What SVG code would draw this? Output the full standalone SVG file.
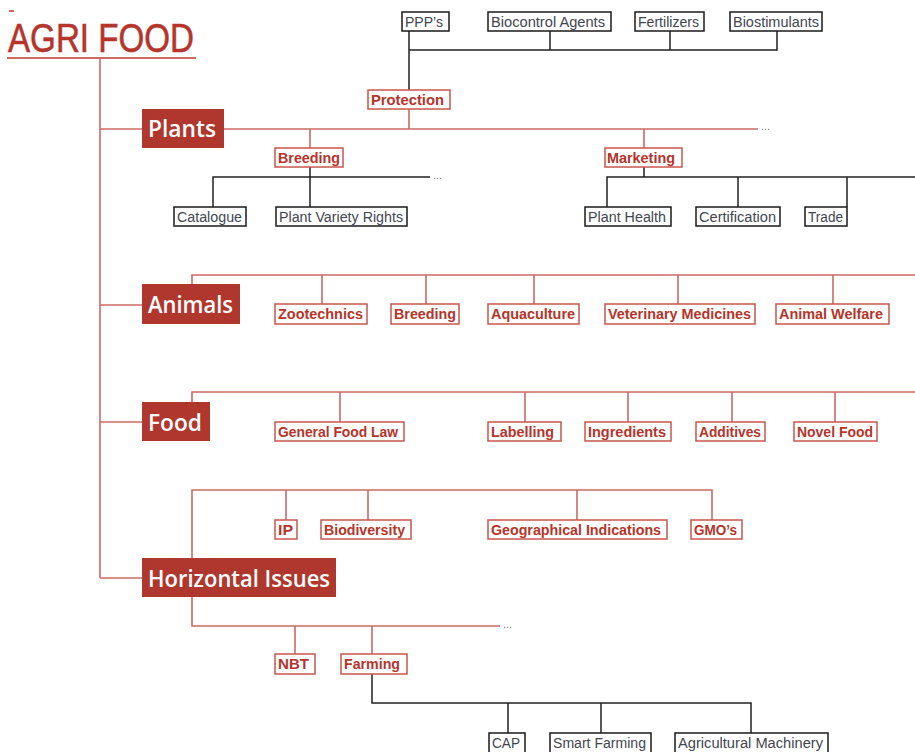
<svg xmlns="http://www.w3.org/2000/svg" width="915" height="752" viewBox="0 0 915 752">
<style>
.rl{fill:none;stroke:#cc6a63;stroke-width:1.6}
.bl{fill:none;stroke:#222;stroke-width:1.5}
.rb{fill:#fff;stroke:#c9564e;stroke-width:1.5}
.bb{fill:#fff;stroke:#1a1a1a;stroke-width:1.5}
.mb{fill:#b0372d;stroke:none}
.rt{font-family:"Liberation Sans",Arial,sans-serif;font-size:14px;font-weight:bold;fill:#b5342b}
.bt{font-family:"Liberation Sans",Arial,sans-serif;font-size:14px;fill:#3f4650}
.mt{font-family:"Open Sans","Liberation Sans",Arial,sans-serif;font-size:23px;font-weight:600;fill:#fff}
.dots{font-family:"Liberation Sans",Arial,sans-serif;font-size:11px;fill:#777}
</style>
<rect x="0" y="0" width="915" height="752" fill="#fff"/>
<g id="title">
<line x1="9" y1="11" x2="14" y2="11" stroke="#b5342b" stroke-width="1.5"/>
<text x="8" y="52" font-family="Liberation Sans,Arial,sans-serif" font-size="41" fill="#b5342b" stroke="#b5342b" stroke-width="0.6" textLength="186" lengthAdjust="spacingAndGlyphs">AGRI FOOD</text>
<line x1="7" y1="58" x2="196" y2="58" stroke="#cc6a63" stroke-width="1.8"/>
</g>
<g id="connectors">
<path class="rl" d="M100,58 V578 M100,129 H142 M100,305 H142 M100,422 H142 M100,578 H142"/>
<path class="rl" d="M224,129 H758 M409,109 V129 M310,129 V148 M644,129 V148"/>
<path class="rl" d="M192,284 V275 H915 M322,275 V304 M426,275 V304 M534,275 V304 M678,275 V304 M833,275 V304"/>
<path class="rl" d="M192,402 V392 H915 M340,392 V422 M525,392 V422 M628,392 V422 M732,392 V422 M835,392 V422"/>
<path class="rl" d="M192,558 V490 H712 V520 M286,490 V520 M368,490 V520 M577,490 V520"/>
<path class="rl" d="M192,597 V626 H500 M295,626 V654 M372,626 V654"/>
<path class="bl" d="M409,31 V90 M409,50 H777 V31 M550,50 V31 M670,50 V31"/>
<path class="bl" d="M310,167 V207 M213,207 V177 H430"/>
<path class="bl" d="M644,167 V177 M607,207 V177 H915 M738,177 V207 M847,177 V207"/>
<path class="bl" d="M372,674 V703 H751 V733 M508,703 V733 M601,703 V733"/>
<text class="dots" x="761" y="130">...</text>
<text class="dots" x="433" y="179">...</text>
<text class="dots" x="503" y="628">...</text>
</g>
<g id="plants"><rect class="mb" x="142" y="109" width="82" height="39"/><text class="mt" x="148" y="137" textLength="68" lengthAdjust="spacingAndGlyphs">Plants</text></g>
<g id="animals"><rect class="mb" x="142" y="284" width="98" height="40"/><text class="mt" x="148" y="313" textLength="85" lengthAdjust="spacingAndGlyphs">Animals</text></g>
<g id="food"><rect class="mb" x="142" y="402" width="68" height="39"/><text class="mt" x="148" y="431" textLength="54" lengthAdjust="spacingAndGlyphs">Food</text></g>
<g id="horizontal-issues"><rect class="mb" x="142" y="558" width="194" height="39"/><text class="mt" x="148" y="587" textLength="182" lengthAdjust="spacingAndGlyphs">Horizontal Issues</text></g>
<g id="ppps"><rect class="bb" x="402" y="12" width="47" height="19"/><text class="bt" x="405" y="26.5" textLength="38" lengthAdjust="spacingAndGlyphs">PPP’s</text></g>
<g id="biocontrol"><rect class="bb" x="488" y="12" width="123" height="19"/><text class="bt" x="491" y="26.5" textLength="114" lengthAdjust="spacingAndGlyphs">Biocontrol Agents</text></g>
<g id="fertilizers"><rect class="bb" x="635" y="12" width="69" height="19"/><text class="bt" x="638" y="26.5" textLength="61" lengthAdjust="spacingAndGlyphs">Fertilizers</text></g>
<g id="biostimulants"><rect class="bb" x="730" y="12" width="92" height="19"/><text class="bt" x="733" y="26.5" textLength="86" lengthAdjust="spacingAndGlyphs">Biostimulants</text></g>
<g id="protection"><rect class="rb" x="368" y="90" width="82" height="19"/><text class="rt" x="371" y="104.5" textLength="73" lengthAdjust="spacingAndGlyphs">Protection</text></g>
<g id="plant-breeding"><rect class="rb" x="275" y="148" width="68" height="19"/><text class="rt" x="278" y="162.5" textLength="62" lengthAdjust="spacingAndGlyphs">Breeding</text></g>
<g id="marketing"><rect class="rb" x="605" y="148" width="77" height="19"/><text class="rt" x="607" y="162.5" textLength="68" lengthAdjust="spacingAndGlyphs">Marketing</text></g>
<g id="catalogue"><rect class="bb" x="174" y="207" width="72" height="19"/><text class="bt" x="177" y="221.5" textLength="65" lengthAdjust="spacingAndGlyphs">Catalogue</text></g>
<g id="pvr"><rect class="bb" x="276" y="207" width="131" height="19"/><text class="bt" x="279" y="221.5" textLength="124" lengthAdjust="spacingAndGlyphs">Plant Variety Rights</text></g>
<g id="plant-health"><rect class="bb" x="585" y="207" width="86" height="19"/><text class="bt" x="588" y="221.5" textLength="78" lengthAdjust="spacingAndGlyphs">Plant Health</text></g>
<g id="certification"><rect class="bb" x="696" y="207" width="84" height="19"/><text class="bt" x="699" y="221.5" textLength="77" lengthAdjust="spacingAndGlyphs">Certification</text></g>
<g id="trade"><rect class="bb" x="805" y="207" width="42" height="19"/><text class="bt" x="808" y="221.5" textLength="35" lengthAdjust="spacingAndGlyphs">Trade</text></g>
<g id="zootechnics"><rect class="rb" x="275" y="304" width="92" height="20"/><text class="rt" x="278" y="319" textLength="85" lengthAdjust="spacingAndGlyphs">Zootechnics</text></g>
<g id="animal-breeding"><rect class="rb" x="391" y="304" width="68" height="20"/><text class="rt" x="394" y="319" textLength="62" lengthAdjust="spacingAndGlyphs">Breeding</text></g>
<g id="aquaculture"><rect class="rb" x="488" y="304" width="91" height="20"/><text class="rt" x="491" y="319" textLength="84" lengthAdjust="spacingAndGlyphs">Aquaculture</text></g>
<g id="vet-medicines"><rect class="rb" x="605" y="304" width="150" height="20"/><text class="rt" x="608" y="319" textLength="143" lengthAdjust="spacingAndGlyphs">Veterinary Medicines</text></g>
<g id="animal-welfare"><rect class="rb" x="776" y="304" width="113" height="20"/><text class="rt" x="779" y="319" textLength="104" lengthAdjust="spacingAndGlyphs">Animal Welfare</text></g>
<g id="general-food-law"><rect class="rb" x="275" y="422" width="129" height="19"/><text class="rt" x="278" y="436.5" textLength="120" lengthAdjust="spacingAndGlyphs">General Food Law</text></g>
<g id="labelling"><rect class="rb" x="488" y="422" width="73" height="19"/><text class="rt" x="491" y="436.5" textLength="63" lengthAdjust="spacingAndGlyphs">Labelling</text></g>
<g id="ingredients"><rect class="rb" x="585" y="422" width="86" height="19"/><text class="rt" x="588" y="436.5" textLength="78" lengthAdjust="spacingAndGlyphs">Ingredients</text></g>
<g id="additives"><rect class="rb" x="696" y="422" width="69" height="19"/><text class="rt" x="699" y="436.5" textLength="62" lengthAdjust="spacingAndGlyphs">Additives</text></g>
<g id="novel-food"><rect class="rb" x="794" y="422" width="83" height="19"/><text class="rt" x="797" y="436.5" textLength="76" lengthAdjust="spacingAndGlyphs">Novel Food</text></g>
<g id="ip"><rect class="rb" x="275" y="520" width="22" height="19"/><text class="rt" x="278" y="534.5" textLength="15" lengthAdjust="spacingAndGlyphs">IP</text></g>
<g id="biodiversity"><rect class="rb" x="321" y="520" width="90" height="19"/><text class="rt" x="324" y="534.5" textLength="81" lengthAdjust="spacingAndGlyphs">Biodiversity</text></g>
<g id="geo-indications"><rect class="rb" x="488" y="520" width="179" height="19"/><text class="rt" x="491" y="534.5" textLength="170" lengthAdjust="spacingAndGlyphs">Geographical Indications</text></g>
<g id="gmos"><rect class="rb" x="691" y="520" width="51" height="19"/><text class="rt" x="694" y="534.5" textLength="43" lengthAdjust="spacingAndGlyphs">GMO’s</text></g>
<g id="nbt"><rect class="rb" x="275" y="654" width="40" height="20"/><text class="rt" x="278" y="669" textLength="31" lengthAdjust="spacingAndGlyphs">NBT</text></g>
<g id="farming"><rect class="rb" x="341" y="654" width="66" height="20"/><text class="rt" x="344" y="669" textLength="56" lengthAdjust="spacingAndGlyphs">Farming</text></g>
<g id="cap"><rect class="bb" x="489" y="733" width="36" height="21"/><text class="bt" x="492" y="748" textLength="28" lengthAdjust="spacingAndGlyphs">CAP</text></g>
<g id="smart-farming"><rect class="bb" x="550" y="733" width="101" height="21"/><text class="bt" x="553" y="748" textLength="93" lengthAdjust="spacingAndGlyphs">Smart Farming</text></g>
<g id="agri-machinery"><rect class="bb" x="675" y="733" width="153" height="21"/><text class="bt" x="678" y="748" textLength="145" lengthAdjust="spacingAndGlyphs">Agricultural Machinery</text></g>
</svg>
